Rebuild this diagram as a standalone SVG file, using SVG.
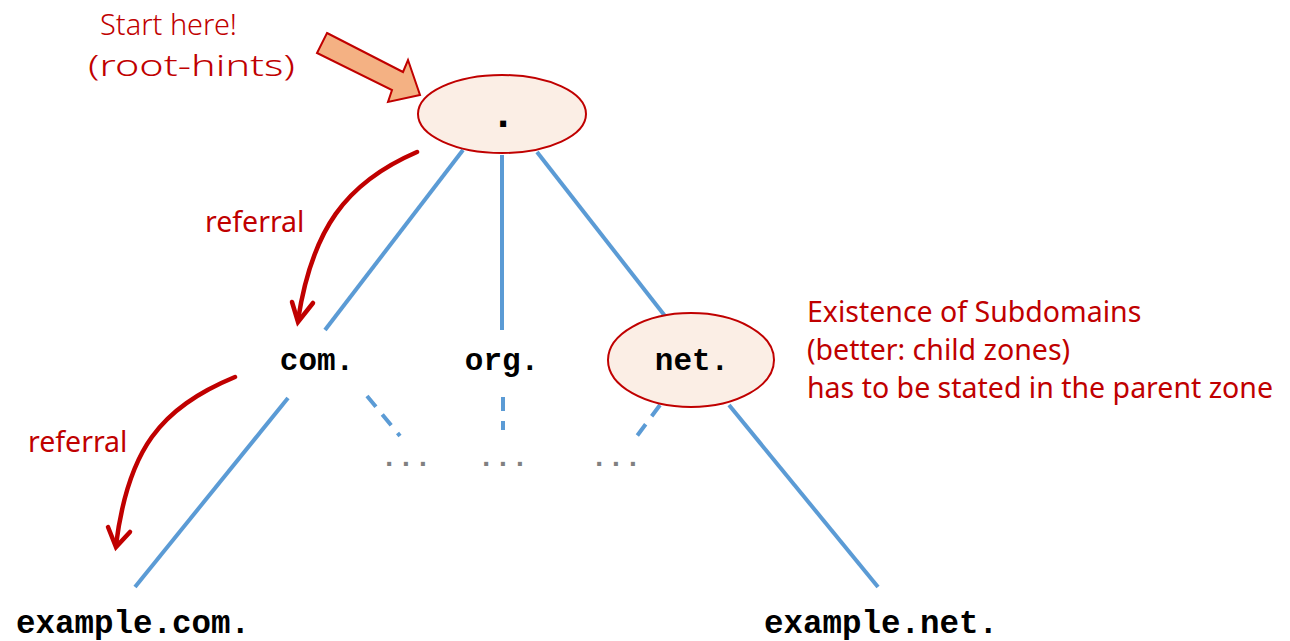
<svg xmlns="http://www.w3.org/2000/svg" width="1290" height="641" viewBox="0 0 1290 641">
<style>
.tree{stroke:#5B9BD5;stroke-width:4;fill:none}
.dash{stroke-dasharray:14 10}
.ref{stroke:#C00000;stroke-width:4.5;fill:none;stroke-linecap:round}
.node{fill:#FBEEE5;stroke:#C00000;stroke-width:2}
.mono{font-family:"Liberation Mono","DejaVu Sans Mono",monospace;font-weight:bold;font-size:31px;fill:#000;text-anchor:middle}
.big{font-size:32.5px}
.red{font-family:"Noto Sans","Open Sans",sans-serif;font-size:28.5px;fill:#C00000}
.hand{font-family:"Segoe Print","Comic Sans MS","Noto Sans",sans-serif;font-weight:300;font-size:30px;fill:#C00000}
.dots{font-family:"Liberation Mono",monospace;font-weight:bold;font-size:28px;fill:#808080;text-anchor:middle}
</style>
<rect width="1290" height="641" fill="#fff"/>
<g id="connectors">
<line class="tree" x1="463" y1="150" x2="325" y2="330"/>
<line class="tree" x1="502" y1="155" x2="502" y2="330"/>
<line class="tree" x1="537" y1="152" x2="665" y2="316"/>
<line class="tree" x1="288" y1="398" x2="135" y2="587"/>
<line class="tree" x1="729" y1="405" x2="878" y2="587"/>
<line class="tree dash" x1="367" y1="396" x2="400" y2="436"/>
<line class="tree dash" x1="503" y1="397" x2="503" y2="430"/>
<line class="tree dash" x1="660" y1="405" x2="634" y2="440"/>
<path class="ref" d="M417,152 C345,183 312,230 298,320"/>
<path class="ref" d="M292,302 L298,322 L313,303"/>
<path class="ref" d="M235,377 C160,408 128,450 116,545"/>
<path class="ref" d="M108,527 L116,547 L130,532"/>
</g>
<g id="hint">
<text class="hand" x="100" y="35" textLength="137" lengthAdjust="spacingAndGlyphs">Start here!</text>
<text class="hand" x="88" y="76" textLength="207" lengthAdjust="spacingAndGlyphs">(root-hints)</text>
<polygon points="327,33 403,72 408,60 420,95 388,102 392,90 317,53" fill="#F4B183" stroke="#C00000" stroke-width="2" stroke-linejoin="miter"/>
</g>
<g id="root">
<ellipse class="node" cx="502" cy="114" rx="84" ry="39"/>
<text class="mono" x="503" y="127" style="font-size:42px">.</text>
</g>
<g id="com">
<text class="mono" x="317" y="370">com.</text>
</g>
<g id="org">
<text class="mono" x="502" y="370">org.</text>
</g>
<g id="net">
<ellipse class="node" cx="691" cy="360" rx="83" ry="47"/>
<text class="mono" x="692" y="370">net.</text>
</g>
<g id="example-com">
<text class="mono big" x="133" y="633">example.com.</text>
</g>
<g id="example-net">
<text class="mono big" x="881" y="633">example.net.</text>
</g>
<g id="labels">
<text class="red" x="205" y="232">referral</text>
<text class="red" x="28" y="452">referral</text>
<text class="red" x="807" y="322">Existence of Subdomains</text>
<text class="red" x="807" y="360">(better: child zones)</text>
<text class="red" x="807" y="398">has to be stated in the parent zone</text>
<text class="dots" x="406" y="466">...</text>
<text class="dots" x="503" y="466">...</text>
<text class="dots" x="616" y="466">...</text>
</g>
</svg>
